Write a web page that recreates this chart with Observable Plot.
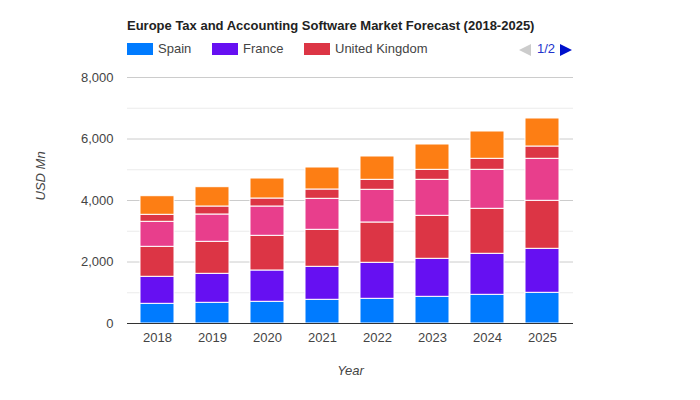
<!DOCTYPE html>
<html>
<head>
<meta charset="utf-8">
<script src="https://cdn.jsdelivr.net/npm/d3@7"></script>
<script src="https://cdn.jsdelivr.net/npm/@observablehq/plot@0.6"></script>
<style>
  body { margin: 0; background: #fff; font-family: Arial, "Liberation Sans", sans-serif; }
  #hdr { position: relative; width: 700px; height: 60px; }
  #title { position: absolute; left: 127px; top: 18px; font-weight: bold; font-size: 13px; color: #222; white-space: nowrap; }
  .sw { position: absolute; top: 43px; width: 26px; height: 12px; }
  .lt { position: absolute; top: 41px; font-size: 13px; color: #444; white-space: nowrap; }
  .tri { position: absolute; top: 44px; width: 0; height: 0; border-top: 6px solid transparent; border-bottom: 6px solid transparent; }
</style>
</head>
<body>
<div id="hdr"></div>
<div id="chart"></div>
<script>
const title = "Europe Tax and Accounting Software Market Forecast (2018-2025)";
const years = ["2018", "2019", "2020", "2021", "2022", "2023", "2024", "2025"];
const seriesNames = ["Spain", "France", "United Kingdom", "Germany", "Italy", "Rest of Europe"];
const seriesColors = ["#007bff", "#6610f2", "#dc3545", "#e83e8c", "#dc3545", "#fd7e14"];
const spain   = [640, 673, 706, 771, 803, 868, 933, 998];
const france  = [879, 943, 1018, 1073, 1171, 1236, 1334, 1431];
const uk      = [975, 1041, 1128, 1203, 1311, 1398, 1463, 1561];
const germany = [813, 888, 953, 1008, 1063, 1171, 1268, 1366];
const italy   = [228, 260, 260, 303, 325, 325, 358, 400];
const rest    = [605, 628, 650, 715, 758, 823, 888, 911];
const majorTicks = [0, 2000, 4000, 6000, 8000];
const minorTicks = [1000, 3000, 5000, 7000];
const legendShown = ["Spain", "France", "United Kingdom"];

// header (title + legend page 1/2)
const hdr = document.getElementById("hdr");
hdr.innerHTML = `<div id="title">${title}</div>`;
const legendX = [[127, 158], [212, 243], [304, 335]];
legendShown.forEach((name, i) => {
  const c = seriesColors[seriesNames.indexOf(name)];
  hdr.insertAdjacentHTML("beforeend",
    `<div class="sw" style="left:${legendX[i][0]}px;background:${c}"></div>` +
    `<div class="lt" style="left:${legendX[i][1]}px">${name}</div>`);
});
hdr.insertAdjacentHTML("beforeend",
  `<div class="tri" style="left:519px;border-right:12px solid #ccc"></div>` +
  `<div class="lt" style="left:537px;color:#2233cc">1/2</div>` +
  `<div class="tri" style="left:560px;border-left:12px solid #0011cc"></div>`);

const allSeries = [spain, france, uk, germany, italy, rest];
const data = [];
years.forEach((y, i) => {
  allSeries.forEach((arr, s) => data.push({ year: y, series: seriesNames[s], order: s, value: arr[i] }));
});

const chart = Plot.plot({
  width: 700,
  height: 340,
  marginLeft: 127,
  marginRight: 127,
  marginTop: 17,
  marginBottom: 77,
  style: { fontFamily: "Arial, 'Liberation Sans', sans-serif", fontSize: "12px", color: "#444" },
  x: { domain: years, paddingInner: 0.38, paddingOuter: 0.2, label: null },
  y: { domain: [0, 8000], label: null },
  color: { domain: seriesNames, range: seriesColors },
  marks: [
    Plot.ruleY(minorTicks, { stroke: "#ebebeb", strokeWidth: 1 }),
    Plot.ruleY(majorTicks, { stroke: "#cccccc", strokeWidth: 1 }),
    Plot.barY(data, Plot.stackY({ order: "order" }, {
      x: "year", y: "value", fill: "series", stroke: "white", strokeWidth: 1
    })),
    Plot.ruleY([0], { stroke: "#333", strokeWidth: 1 }),
    Plot.axisY(majorTicks, { tickSize: 0, tickPadding: 14, tickFormat: d3.format(","), fontSize: 13, fill: "#444", label: null }),
    Plot.axisX({ tickSize: 0, tickPadding: 9, fontSize: 13, fill: "#444", label: null }),
    Plot.text(["Year"], { frameAnchor: "bottom", dy: 51, fontStyle: "italic", fontSize: 13, fill: "#444" }),
    Plot.text(["USD Mn"], { frameAnchor: "left", dx: -87, rotate: -90, fontStyle: "italic", fontSize: 13, fill: "#444" })
  ]
});
document.getElementById("chart").appendChild(chart);
</script>
</body>
</html>
